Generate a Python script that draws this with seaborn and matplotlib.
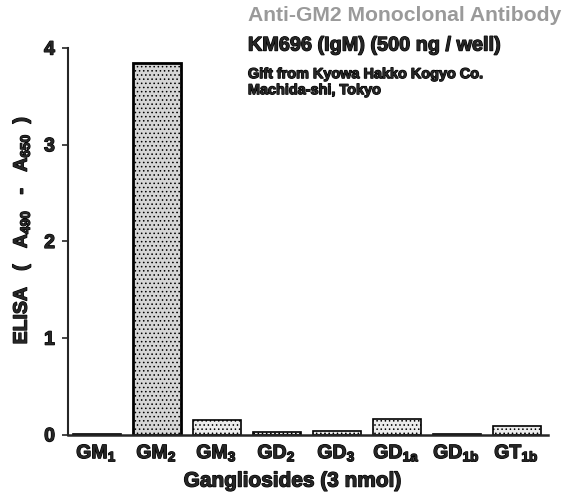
import numpy as np
import matplotlib
matplotlib.use("Agg")
import matplotlib.pyplot as plt
import matplotlib.patheffects as pe
import pandas as pd
import seaborn as sns

# data
gangliosides = ["GM1", "GM2", "GM3", "GD2", "GD3", "GD1a", "GD1b", "GT1b"]
tick_labels = ["GM$_1$", "GM$_2$", "GM$_3$", "GD$_2$", "GD$_3$", "GD$_{1a}$", "GD$_{1b}$", "GT$_{1b}$"]
elisa = [0.01, 3.85, 0.155, 0.03, 0.045, 0.16, 0.01, 0.09]

df = pd.DataFrame({"Ganglioside": gangliosides, "ELISA": elisa})

sns.set_style("ticks")
plt.rcParams["font.family"] = ["Liberation Sans", "DejaVu Sans"]
plt.rcParams["font.weight"] = "bold"
plt.rcParams["mathtext.fontset"] = "custom"
plt.rcParams["mathtext.bf"] = "Liberation Sans:bold"
plt.rcParams["mathtext.rm"] = "Liberation Sans:bold"
plt.rcParams["mathtext.default"] = "bf"
plt.rcParams["hatch.color"] = "#8a8a8a"
plt.rcParams["hatch.linewidth"] = 0.6

# thicken glyphs a little, like the inked scan
heavy = [pe.withStroke(linewidth=0.9, foreground="black")]

fig = plt.figure(figsize=(5.7, 5.01), dpi=100)
ax = fig.add_axes([0.119, 0.132, 0.842, 0.772])

colors = ["#d6d6d6" if g == "GM2" else "#ececec" for g in gangliosides]
sns.barplot(data=df, x="Ganglioside", y="ELISA", hue="Ganglioside", palette=colors,
            legend=False, width=0.8, saturation=1, edgecolor="black", linewidth=1.2, ax=ax)
for p in ax.patches:
    p.set_hatch("....")
    if p.get_height() > 1:
        p.set_linewidth(2.0)

ax.set_xlim(-0.48, 7.52)
ax.set_ylim(0, 4)
ax.set_yticks([0, 1, 2, 3, 4])
ax.set_yticklabels(["0", "1", "2", "3", "4"], fontsize=14, fontweight="bold")
ax.set_xticks(range(len(gangliosides)))
ax.set_xticklabels(tick_labels, fontsize=14)
for t in ax.get_xticklabels() + ax.get_yticklabels():
    t.set_path_effects(heavy)
ax.tick_params(axis="x", length=0, pad=6)
ax.tick_params(axis="y", length=4.3, width=1.2, direction="out", pad=5)
sns.despine(ax=ax)
ax.spines["left"].set_linewidth(1.5)
ax.spines["bottom"].set_linewidth(1.8)

ax.set_xlabel("Gangliosides (3 nmol)", fontsize=15, fontweight="bold", path_effects=heavy)
ax.xaxis.set_label_coords(0.469, -0.095)
ax.set_ylabel("ELISA   (   A$_{490}$   -   A$_{650}$  )", fontsize=14, fontweight="bold",
              path_effects=heavy)
ax.yaxis.set_label_coords(-0.073, 0.53)

fig.text(0.435, 0.970, "Anti-GM2 Monoclonal Antibody", fontsize=15.2, color="#9a9a9a",
         fontweight="bold", ha="left", va="center")
fig.text(0.435, 0.910, "KM696 (IgM) (500 ng / well)", fontsize=14.3, fontweight="bold",
         ha="left", va="center", path_effects=heavy)
fig.text(0.435, 0.852, "Gift from Kyowa Hakko Kogyo Co.", fontsize=10.4, fontweight="bold",
         ha="left", va="center", path_effects=heavy)
fig.text(0.435, 0.820, "Machida-shi, Tokyo", fontsize=10.4, fontweight="bold",
         ha="left", va="center", path_effects=heavy)

fig.savefig("out.png", dpi=100)
